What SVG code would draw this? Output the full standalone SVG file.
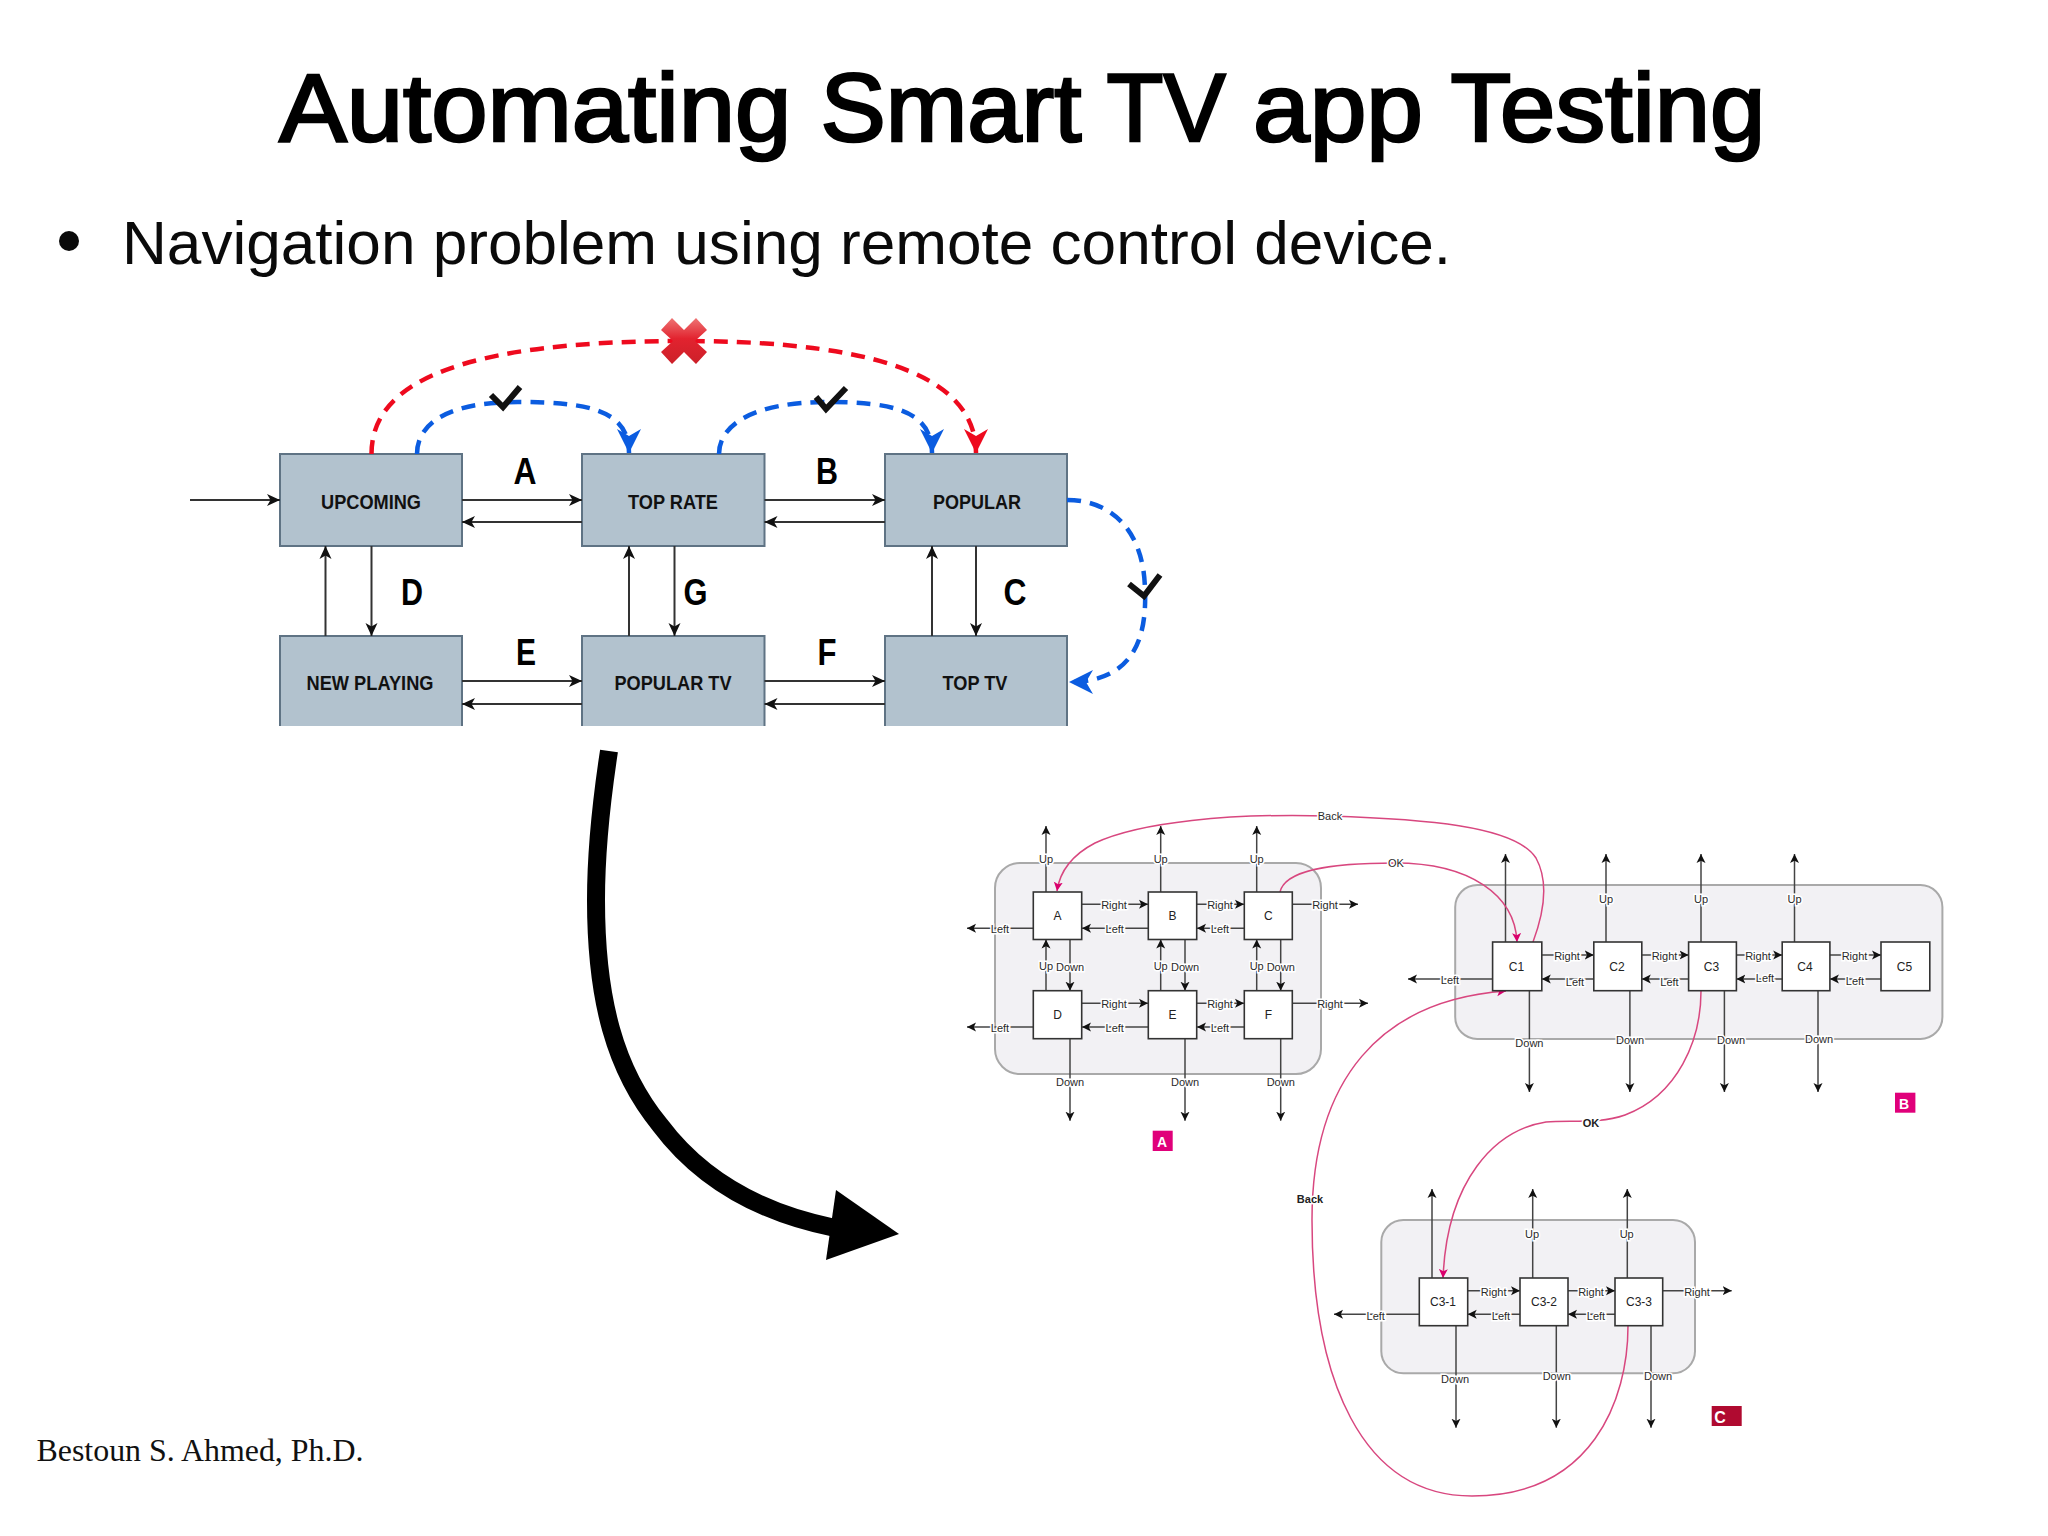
<svg xmlns="http://www.w3.org/2000/svg" width="2048" height="1536" viewBox="0 0 2048 1536">
<style>
text{font-family:"Liberation Sans",Arial,sans-serif}
.title{font-size:96px;stroke:#000;stroke-width:2.600}
.sub{font-size:61px;fill:#0a0a0a}
.foot{font-family:"Liberation Serif","Times New Roman",serif;font-size:32px;fill:#111}
.box{fill:#b2c2ce}
.edge{fill:none;stroke:#5f7384;stroke-width:2}
.bt{font-size:21px;font-weight:bold;text-anchor:middle;dominant-baseline:central;fill:#111}
.let{font-size:37px;font-weight:bold;text-anchor:middle;fill:#000}
.k{fill:none;stroke:#333;stroke-width:2;marker-end:url(#big)}
.red{fill:none;stroke:#ee0a1e;stroke-width:4.500;stroke-dasharray:14 9;marker-end:url(#hr)}
.blue{fill:none;stroke:#0b5ce0;stroke-width:4.500;stroke-dasharray:14 9;marker-end:url(#hb)}
.chk{fill:none;stroke:#111;stroke-width:6}
.cont{fill:#f2f1f4;stroke:#a9a9a9;stroke-width:2}
.n{fill:#fff;stroke:#333;stroke-width:1.600}
.nt{font-size:12px;text-anchor:middle;dominant-baseline:central;fill:#222}
.a{fill:none;stroke:#444;stroke-width:1.500;marker-end:url(#sm)}
.p{fill:none;stroke:#d8477f;stroke-width:1.500}
.pa{marker-end:url(#pk)}
.l{font-size:11px;text-anchor:middle;dominant-baseline:central;fill:#2a2a2a;paint-order:stroke;stroke:#fff;stroke-width:3}
.lb{font-size:11px;font-weight:bold;text-anchor:middle;dominant-baseline:central;fill:#222;paint-order:stroke;stroke:#fff;stroke-width:3}
.bdg{font-size:14px;font-weight:bold;fill:#fff;text-anchor:middle;dominant-baseline:central}
</style>
<defs>
<marker id="big" markerUnits="userSpaceOnUse" markerWidth="14" markerHeight="14" refX="13" refY="7" orient="auto"><path d="M0 1 L13 7 L0 13 L3.500 7Z" fill="#111"/></marker>
<marker id="hb" markerUnits="userSpaceOnUse" markerWidth="26" markerHeight="26" refX="24" refY="13" orient="auto"><path d="M0 1 L24 13 L0 25 L7 13Z" fill="#0b5ce0"/></marker>
<marker id="hr" markerUnits="userSpaceOnUse" markerWidth="26" markerHeight="26" refX="24" refY="13" orient="auto"><path d="M0 1 L24 13 L0 25 L7 13Z" fill="#ee0a1e"/></marker>
<marker id="sm" markerUnits="userSpaceOnUse" markerWidth="10" markerHeight="10" refX="9" refY="5" orient="auto"><path d="M0 .5 L9 5 L0 9.500 L2.200 5Z" fill="#111"/></marker>
<marker id="pk" markerUnits="userSpaceOnUse" markerWidth="10" markerHeight="10" refX="9" refY="5" orient="auto"><path d="M0 .5 L9 5 L0 9.500 L2.200 5Z" fill="#d9006c"/></marker>
<linearGradient id="xg" x1="0" y1="0" x2="0" y2="1"><stop offset="0" stop-color="#ee7474"/><stop offset=".45" stop-color="#e2232f"/><stop offset="1" stop-color="#cc2029"/></linearGradient>
</defs>
<rect width="2048" height="1536" fill="#fff"/>
<text class="title" y="141"><tspan x="279.300" textLength="512" lengthAdjust="spacingAndGlyphs">Automating</tspan> <tspan x="820.400" textLength="261" lengthAdjust="spacingAndGlyphs">Smart</tspan> <tspan x="1106.600" textLength="119" lengthAdjust="spacingAndGlyphs">TV</tspan> <tspan x="1253" textLength="170" lengthAdjust="spacingAndGlyphs">app</tspan> <tspan x="1450.400" textLength="315" lengthAdjust="spacingAndGlyphs">Testing</tspan></text>
<circle cx="69" cy="241" r="10" fill="#0a0a0a"/>
<text class="sub" x="122" y="264" textLength="1329" lengthAdjust="spacingAndGlyphs">Navigation problem using remote control device.</text>
<text class="foot" x="36.500" y="1461" textLength="327" lengthAdjust="spacingAndGlyphs">Bestoun S. Ahmed, Ph.D.</text>

<g id="top-nodes">
<g id="upcoming"><rect class="box" x="280" y="454" width="182" height="92"/><rect class="edge" x="280" y="454" width="182" height="92"/><text class="bt" x="371" y="501" textLength="100" lengthAdjust="spacingAndGlyphs">UPCOMING</text></g>
<g id="top-rate"><rect class="box" x="582" y="454" width="182.500" height="92"/><rect class="edge" x="582" y="454" width="182.500" height="92"/><text class="bt" x="673" y="501" textLength="90" lengthAdjust="spacingAndGlyphs">TOP RATE</text></g>
<g id="popular"><rect class="box" x="885" y="454" width="182" height="92"/><rect class="edge" x="885" y="454" width="182" height="92"/><text class="bt" x="977" y="501" textLength="88" lengthAdjust="spacingAndGlyphs">POPULAR</text></g>
<g id="new-playing"><rect class="box" x="280" y="636" width="182" height="90"/><path class="edge" d="M280 726V636H462V726"/><text class="bt" x="370" y="682" textLength="127" lengthAdjust="spacingAndGlyphs">NEW PLAYING</text></g>
<g id="popular-tv"><rect class="box" x="582" y="636" width="182.500" height="90"/><path class="edge" d="M582 726V636H764.500V726"/><text class="bt" x="673" y="682" textLength="117" lengthAdjust="spacingAndGlyphs">POPULAR TV</text></g>
<g id="top-tv"><rect class="box" x="885" y="636" width="182" height="90"/><path class="edge" d="M885 726V636H1067V726"/><text class="bt" x="975" y="682" textLength="65" lengthAdjust="spacingAndGlyphs">TOP TV</text></g>
</g>

<g id="top-connectors">
<path class="k" d="M190 500H280"/>
<path class="k" d="M462 500H582"/><path class="k" d="M582 522H462"/>
<path class="k" d="M764.500 500H885"/><path class="k" d="M885 522H764.500"/>
<path class="k" d="M462 681H582"/><path class="k" d="M582 704H462"/>
<path class="k" d="M764.500 681H885"/><path class="k" d="M885 704H764.500"/>
<path class="k" d="M325.500 636V546"/><path class="k" d="M371.500 546V636"/>
<path class="k" d="M629 636V546"/><path class="k" d="M674.500 546V636"/>
<path class="k" d="M932 636V546"/><path class="k" d="M976 546V636"/>
<path class="red" d="M371.500 454C371.500 395 430 341 684 341C898 341 976 385 976 453"/>
<path class="blue" d="M417 454C417 425 445 402 518 402C588 402 629 410 629 453"/>
<path class="blue" d="M719 454C719 425 753 402 827 402C891 402 932 410 932 453"/>
<path class="blue" d="M1067 500C1111 500 1144 530 1145 590C1147 640 1132 682 1069 682"/>
</g>
<g id="top-labels">
<text class="let" x="525" y="484" textLength="23" lengthAdjust="spacingAndGlyphs">A</text><text class="let" x="827" y="484" textLength="22" lengthAdjust="spacingAndGlyphs">B</text>
<text class="let" x="412" y="605" textLength="22" lengthAdjust="spacingAndGlyphs">D</text><text class="let" x="695.500" y="605" textLength="24" lengthAdjust="spacingAndGlyphs">G</text><text class="let" x="1015" y="605" textLength="23" lengthAdjust="spacingAndGlyphs">C</text>
<text class="let" x="526" y="665" textLength="20" lengthAdjust="spacingAndGlyphs">E</text><text class="let" x="827" y="665" textLength="19" lengthAdjust="spacingAndGlyphs">F</text>
<path class="chk" d="M491 395L503 407L520 387"/>
<path class="chk" d="M816 397L826 409L846 388"/>
<path class="chk" d="M1129 584L1144 596L1160 575"/>
<polygon fill="url(#xg)" points="672,318 684,330 696,318 707,330 695,341 707,352 696,364 684,352 672,364 661,352 673,341 661,330"/>
</g>

<g id="big-arrow">
<path d="M609 751C600 810 596 860 596 900C596 1000 615 1070 660 1125C705 1185 770 1215 835 1228" fill="none" stroke="#000" stroke-width="18"/>
<polygon points="836,1190 899,1234 826,1260" fill="#000"/>
</g>

<g id="cont-a"><rect class="cont" x="995" y="863" width="326" height="211" rx="25"/></g>
<g id="cont-b"><rect class="cont" x="1455.200" y="885" width="487.200" height="154" rx="22"/></g>
<g id="cont-c"><rect class="cont" x="1381.300" y="1220" width="313.700" height="153.300" rx="22"/></g>

<g id="connectors">
<path class="a" d="M1046 892V826"/><path class="a" d="M1160.700 892V826"/><path class="a" d="M1256.700 892V826"/>
<path class="a" d="M1082 904.300H1148"/><path class="a" d="M1197 904.300H1244"/><path class="a" d="M1292 904.300H1358"/>
<path class="a" d="M1148 928.300H1082"/><path class="a" d="M1244 928.300H1197"/><path class="a" d="M1033 928.300H967"/>
<path class="a" d="M1046 990.700V939.500"/><path class="a" d="M1160.700 990.700V939.500"/><path class="a" d="M1256.700 990.700V939.500"/>
<path class="a" d="M1070 939.500V990.700"/><path class="a" d="M1185 939.500V990.700"/><path class="a" d="M1280.700 939.500V990.700"/>
<path class="a" d="M1082 1003.300H1148"/><path class="a" d="M1197 1003.300H1244"/><path class="a" d="M1292 1003.300H1368"/>
<path class="a" d="M1148 1027H1082"/><path class="a" d="M1244 1027H1197"/><path class="a" d="M1033 1027H967"/>
<path class="a" d="M1070 1038.700V1120.700"/><path class="a" d="M1185 1038.700V1120.700"/><path class="a" d="M1280.700 1038.700V1120.700"/>

<path class="a" d="M1505.500 942V854"/><path class="a" d="M1606 942V854"/><path class="a" d="M1701 942V854"/><path class="a" d="M1794.500 942V854"/>
<path class="a" d="M1541.800 955H1593.800"/><path class="a" d="M1641.800 955H1688.600"/><path class="a" d="M1736.400 955H1782.200"/><path class="a" d="M1829.900 955H1881"/>
<path class="a" d="M1593.800 979H1541.800"/><path class="a" d="M1688.600 979H1641.800"/><path class="a" d="M1782.200 979H1736.400"/><path class="a" d="M1881 979H1829.900"/><path class="a" d="M1492.600 979H1408"/>
<path class="a" d="M1529.400 990.700V1092"/><path class="a" d="M1629.900 990.700V1092"/><path class="a" d="M1724.400 990.700V1092"/><path class="a" d="M1818 990.700V1092"/>

<path class="a" d="M1432 1278V1189"/><path class="a" d="M1532.700 1278V1189"/><path class="a" d="M1627.300 1278V1189"/>
<path class="a" d="M1467.700 1290.700H1520"/><path class="a" d="M1568 1290.700H1615"/><path class="a" d="M1662.700 1290.700H1731.700"/>
<path class="a" d="M1520 1314.300H1467.700"/><path class="a" d="M1615 1314.300H1568"/><path class="a" d="M1419.300 1314.300H1334"/>
<path class="a" d="M1456 1325.700V1427.700"/><path class="a" d="M1556.300 1325.700V1427.700"/><path class="a" d="M1651 1325.700V1427.700"/>

<path class="p pa" d="M1533 942C1545 910 1548 880 1536 858C1515 825 1420 819 1330 816C1230 813 1140 822 1095 843C1072 855 1060 870 1057 891"/>
<path class="p pa" d="M1280 892C1285 870 1330 863 1395 863C1470 863 1515 895 1517 942"/>
<path class="p pa" d="M1701 991C1701 1040 1678 1095 1625 1115C1600 1124 1570 1120 1546 1122C1495 1130 1447 1180 1443 1278"/>
<path class="p pa" d="M1628 1326C1628 1400 1592 1496 1472 1496C1362 1496 1312 1380 1312 1220C1312 1080 1380 1000 1506 991"/>
</g>

<g id="connector-labels">
<text class="l" x="1046" y="859">Up</text><text class="l" x="1160.700" y="859">Up</text><text class="l" x="1256.700" y="859">Up</text>
<text class="l" x="1114" y="905">Right</text><text class="l" x="1220" y="905">Right</text><text class="l" x="1325" y="905">Right</text>
<text class="l" x="1114.700" y="929">Left</text><text class="l" x="1220" y="929">Left</text><text class="l" x="1000" y="929">Left</text>
<text class="l" x="1046" y="965.700">Up</text><text class="l" x="1160.700" y="965.700">Up</text><text class="l" x="1256.700" y="965.700">Up</text>
<text class="l" x="1070" y="966.700">Down</text><text class="l" x="1185" y="966.700">Down</text><text class="l" x="1280.700" y="966.700">Down</text>
<text class="l" x="1114" y="1004">Right</text><text class="l" x="1220" y="1004">Right</text><text class="l" x="1330" y="1004">Right</text>
<text class="l" x="1114.700" y="1028">Left</text><text class="l" x="1220" y="1028">Left</text><text class="l" x="1000" y="1028">Left</text>
<text class="l" x="1070" y="1081.700">Down</text><text class="l" x="1185" y="1081.700">Down</text><text class="l" x="1280.700" y="1081.700">Down</text>
<text class="l" x="1330" y="816">Back</text><text class="l" x="1396" y="863">OK</text>

<text class="l" x="1606" y="899">Up</text><text class="l" x="1701" y="899">Up</text><text class="l" x="1794.500" y="899">Up</text>
<text class="l" x="1567" y="956">Right</text><text class="l" x="1664.500" y="956">Right</text><text class="l" x="1758" y="956">Right</text><text class="l" x="1854.500" y="956">Right</text>
<text class="l" x="1450" y="980">Left</text><text class="l" x="1575" y="981.700">Left</text><text class="l" x="1669.500" y="981.700">Left</text><text class="l" x="1765" y="977.700">Left</text><text class="l" x="1855" y="980.500">Left</text>
<text class="l" x="1529.400" y="1042.700">Down</text><text class="l" x="1630" y="1040">Down</text><text class="l" x="1731" y="1040">Down</text><text class="l" x="1819" y="1038.700">Down</text>
<text class="lb" x="1591" y="1123">OK</text>

<text class="l" x="1532" y="1234">Up</text><text class="l" x="1626.700" y="1234">Up</text>
<text class="l" x="1493.700" y="1291.500">Right</text><text class="l" x="1591" y="1291.500">Right</text><text class="l" x="1697" y="1291.500">Right</text>
<text class="l" x="1375.700" y="1315.500">Left</text><text class="l" x="1501" y="1315.700">Left</text><text class="l" x="1596" y="1315.700">Left</text>
<text class="l" x="1455" y="1379">Down</text><text class="l" x="1556.700" y="1376">Down</text><text class="l" x="1658" y="1376">Down</text>
<text class="lb" x="1310" y="1199">Back</text>
</g>

<g id="node-a"><rect class="n" x="1033.300" y="892" width="48.400" height="47.500"/><text class="nt" x="1057.500" y="916">A</text></g>
<g id="node-b"><rect class="n" x="1148.300" y="892" width="48.400" height="47.500"/><text class="nt" x="1172.500" y="916">B</text></g>
<g id="node-c"><rect class="n" x="1244.300" y="892" width="48" height="47.500"/><text class="nt" x="1268.300" y="916">C</text></g>
<g id="node-d"><rect class="n" x="1033.300" y="990.700" width="48.400" height="48"/><text class="nt" x="1057.500" y="1015">D</text></g>
<g id="node-e"><rect class="n" x="1148.300" y="990.700" width="48.400" height="48"/><text class="nt" x="1172.500" y="1015">E</text></g>
<g id="node-f"><rect class="n" x="1244.300" y="990.700" width="48" height="48"/><text class="nt" x="1268.300" y="1015">F</text></g>
<g id="node-c1"><rect class="n" x="1492.600" y="942" width="49.200" height="48.700"/><text class="nt" x="1516.500" y="967">C1</text></g>
<g id="node-c2"><rect class="n" x="1593.800" y="942" width="48" height="48.700"/><text class="nt" x="1617" y="967">C2</text></g>
<g id="node-c3"><rect class="n" x="1688.600" y="942" width="47.800" height="48.700"/><text class="nt" x="1711.500" y="967">C3</text></g>
<g id="node-c4"><rect class="n" x="1782.200" y="942" width="47.700" height="48.700"/><text class="nt" x="1805" y="967">C4</text></g>
<g id="node-c5"><rect class="n" x="1881" y="942" width="48.800" height="48.700"/><text class="nt" x="1904.500" y="967">C5</text></g>
<g id="node-c3-1"><rect class="n" x="1419.300" y="1278" width="48.400" height="47.700"/><text class="nt" x="1443" y="1302">C3-1</text></g>
<g id="node-c3-2"><rect class="n" x="1520" y="1278" width="48" height="47.700"/><text class="nt" x="1544" y="1302">C3-2</text></g>
<g id="node-c3-3"><rect class="n" x="1615" y="1278" width="47.700" height="47.700"/><text class="nt" x="1639" y="1302">C3-3</text></g>

<g id="badge-a"><rect x="1152.700" y="1130.700" width="20" height="20.300" fill="#e0007a"/><text class="bdg" x="1162" y="1141.500">A</text></g>
<g id="badge-b"><rect x="1895" y="1092.700" width="20.400" height="20" fill="#e0007a"/><text class="bdg" x="1904" y="1103.500">B</text></g>
<g id="badge-c"><rect x="1711.700" y="1406" width="30" height="20" fill="#b00a30"/><text class="bdg" x="1720" y="1417" style="font-size:16px">C</text></g>
</svg>
